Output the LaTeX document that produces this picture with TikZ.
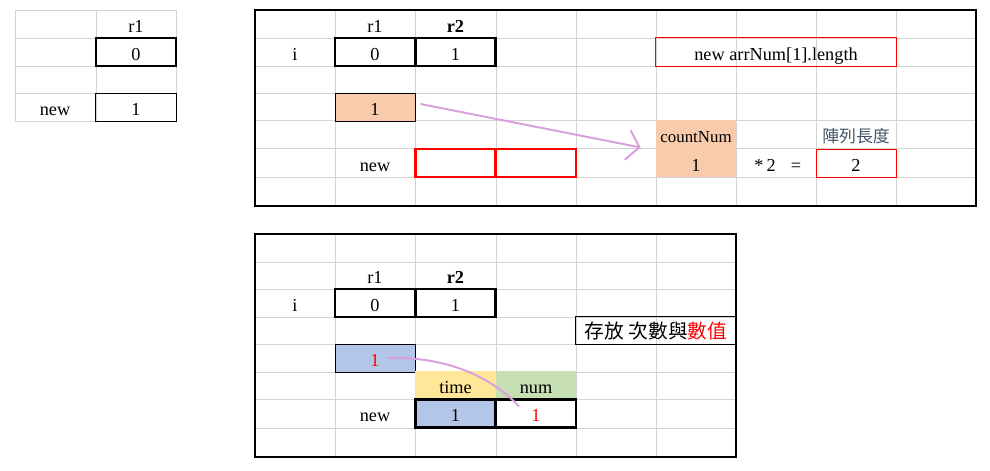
\documentclass[tikz,border=0pt]{standalone}
\usepackage{fontspec}
\setmainfont{Liberation Serif}
\newfontfamily\cjk{Noto Sans CJK TC}
\usetikzlibrary{arrows.meta}
\definecolor{gridgray}{RGB}{212,212,212}
\definecolor{salmon}{RGB}{248,203,173}
\definecolor{cellblue}{RGB}{180,198,231}
\definecolor{cellyellow}{RGB}{255,230,153}
\definecolor{cellgreen}{RGB}{198,224,180}
\definecolor{plumline}{RGB}{218,160,222}
\definecolor{slate}{RGB}{68,84,106}

\begin{document}
\begin{tikzpicture}[x=0.025cm, y=-0.025cm,
  every node/.style={font=\fontsize{13}{15}\selectfont, text height=11.5pt, text depth=0pt},
  cell/.style={minimum width=2cm, minimum height=0.7cm, inner sep=0pt},
  thickbox/.style={cell, draw, line width=2pt},
  thinbox/.style={cell, draw, line width=0.7pt},
  gridline/.style={gridgray, line width=0.6pt},
  frame/.style={line width=2pt}]

\useasboundingbox (0,0) rectangle (990,471);

% grid lines
\foreach \y in {10,38,66,93,121} \draw[gridline] (15,\y) -- (176,\y);
\foreach \x in {15,96,176} \draw[gridline] (\x,10) -- (\x,121);
\foreach \y in {38,66,93,120,148,177} \draw[gridline] (255,\y) -- (976,\y);
\foreach \x in {335,415,496,576,656,736,816,896} \draw[gridline] (\x,10) -- (\x,206);
\foreach \y in {262,289,317,344,372,399,428} \draw[gridline] (255,\y) -- (736,\y);
\foreach \x in {335,415,496,576,656} \draw[gridline] (\x,234) -- (\x,457);

% left table
\node (ra) at (136,24) {r1};
\node[thickbox] (za) at (136,52) {0};
\node (na) at (55,107) {new};
\node[thinbox] (oa) at (136,107) {1};

% top frame
\draw[frame] (255,10) rectangle (976,206);
\node (rb1) at (375,24) {r1};
\node[font=\fontsize{13}{15}\selectfont\bfseries] (rb2) at (455.5,24) {r2};
\node (ib) at (295,52) {i};
\node[thickbox] (zb) at (375,52) {0};
\node[thickbox] (ob) at (455.5,52) {1};
\node[thinbox, draw=red, minimum width=6cm] (len) at (776,52) {new arrNum[1].length};
\node[thinbox, fill=salmon] (cb) at (375,107) {1};
\node[cell, fill=salmon, minimum height=1.425cm] (cnt) at (696,148.5) {};
\node[font=\fontsize{12}{14}\selectfont] (cntt) at (696,134) {countNum};
\node (cntv) at (696,163) {1};
\node[font=\cjk\fontsize{12}{14}\selectfont, text=slate] (lab) at (856,134) {陣列長度};
\node (nb) at (375,163) {new};
\node[thickbox, draw=red] (nb1) at (455.5,163) {};
\node[thickbox, draw=red] (nb2) at (536,163) {};
\node (tw) at (765,163) {*\,2};
\node (eq) at (796,163) {=};
\node[thinbox, draw=red] (res) at (856,163) {2};

\draw[plumline, line width=1.4pt, -{Straight Barb[length=0.3cm, width=0.75cm]}]
  ([shift={(5,-3)}]cb.east) -- ([shift={(-15,-1)}]cnt.west);

% bottom frame
\draw[frame] (255,234) rectangle (736,457);
\node (rc1) at (375,275.5) {r1};
\node[font=\fontsize{13}{15}\selectfont\bfseries] (rc2) at (455.5,275.5) {r2};
\node (ic) at (295,303) {i};
\node[thickbox] (zc) at (375,303) {0};
\node[thickbox] (oc) at (455.5,303) {1};
\node[thinbox, minimum width=4cm, font=\cjk\fontsize{14}{16}\selectfont] (note) at (656,330.5) {存放 次數與{\color{red}數值}};
\node[thinbox, fill=cellblue, text=red] (bl) at (375,358) {1};
\node[cell, fill=cellyellow] (tm) at (455.5,385.5) {time};
\node[cell, fill=cellgreen] (nm) at (536,385.5) {num};
\node (nc) at (375,413.5) {new};
\node[thickbox, fill=cellblue] (tv) at (455.5,413.5) {1};
\node[thickbox, text=red] (nv) at (536,413.5) {1};

\draw[plumline, line width=1.4pt]
  ([shift={(13,0)}]bl.center) .. controls (450,356) and (495,380) .. ([shift={(-17,-7)}]nv.center);

\end{tikzpicture}
\end{document}
